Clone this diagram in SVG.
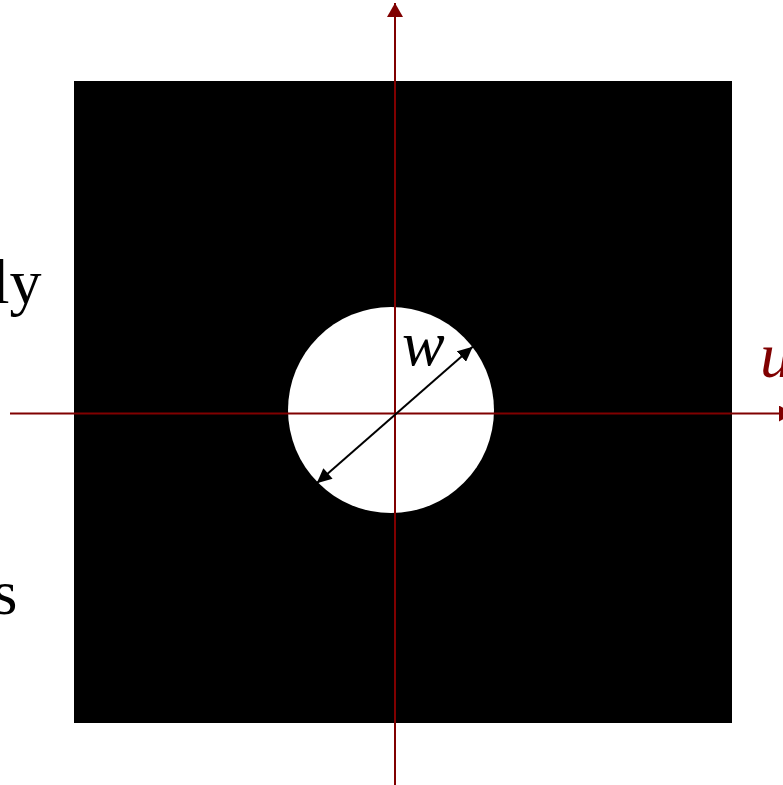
<svg xmlns="http://www.w3.org/2000/svg" width="783" height="785" viewBox="0 0 783 785">
<style>
.axis{stroke:#800000;stroke-width:2;fill:none}
.dim{stroke:#000;stroke-width:2;fill:none}
.lbl{font-family:"Liberation Serif","Times New Roman",serif;font-size:64px}
.it{font-style:italic}
</style>
<defs>
<marker id="ax" markerUnits="userSpaceOnUse" markerWidth="16" markerHeight="16" refX="14" refY="8" orient="auto">
<path d="M0,0 L14,8 L0,16 z" fill="#800000"/>
</marker>
<marker id="dh" markerUnits="userSpaceOnUse" markerWidth="16" markerHeight="14" refX="15" refY="7" orient="auto">
<path d="M0,0 L15,7 L0,14 z" fill="#000"/>
</marker>
<marker id="dt" markerUnits="userSpaceOnUse" markerWidth="16" markerHeight="14" refX="0" refY="7" orient="auto">
<path d="M15,0 L0,7 L15,14 z" fill="#000"/>
</marker>
</defs>
<rect width="783" height="785" fill="#fff"/>
<g id="aperture">
<rect x="74" y="81" width="658" height="642" fill="#000"/>
<circle cx="391" cy="410" r="103" fill="#fff"/>
</g>
<g id="connectors">
<line class="axis" x1="395" y1="785" x2="395" y2="3" marker-end="url(#ax)"/>
<line class="axis" x1="10" y1="413.5" x2="793" y2="413.5" marker-end="url(#ax)"/>
<line class="dim" x1="316.7" y1="483.3" x2="472.7" y2="346.7" marker-start="url(#dt)" marker-end="url(#dh)"/>
</g>
<g id="labels">
<text class="lbl" x="41.5" y="303" text-anchor="end">ly</text>
<text class="lbl" x="17.5" y="614" text-anchor="end">s</text>
<text class="lbl it" x="402" y="365">w</text>
<text class="lbl it" x="760" y="377" fill="#800000">u</text>
</g>
</svg>
